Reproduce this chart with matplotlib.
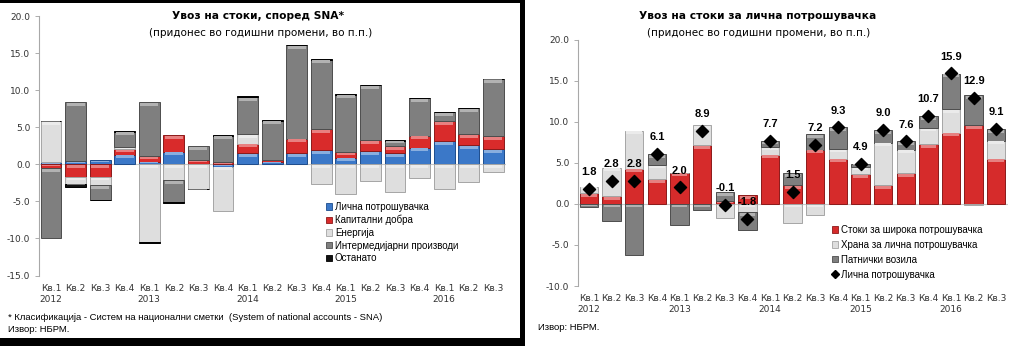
import numpy as np
import matplotlib
matplotlib.use("Agg")
import matplotlib.pyplot as plt
from matplotlib.colors import to_rgb
from matplotlib.patches import Patch, Rectangle
from matplotlib.lines import Line2D

# ---- data ----
quarters = ["Кв.1\n2012", "Кв.2", "Кв.3", "Кв.4",
            "Кв.1\n2013", "Кв.2", "Кв.3", "Кв.4",
            "Кв.1\n2014", "Кв.2", "Кв.3", "Кв.4",
            "Кв.1\n2015", "Кв.2", "Кв.3", "Кв.4",
            "Кв.1\n2016", "Кв.2", "Кв.3"]

# left chart: imports by SNA classification
licna = [0.3, 0.45, 0.6, 1.3, 0.35, 1.7, 0.05, -0.3, 1.5, 0.35,
         1.5, 1.95, 0.9, 1.8, 1.5, 2.25, 3.1, 2.6, 2.0]
kapitalni = [-0.5, -1.7, -1.7, 0.7, 0.75, 2.2, 0.5, 0.25, 1.3, 0.25,
             1.95, 2.8, 0.7, 1.5, 0.9, 1.6, 2.7, 1.45, 1.8]
energija = [5.5, -0.9, -1.1, 0.35, -10.5, -2.15, -3.3, -6.0, 1.3, 0.0,
            0.0, -2.6, -4.0, -2.3, -3.8, -1.9, -3.3, -2.45, -1.0]
intermed = [-9.4, 7.95, -2.0, 2.05, 7.3, -2.95, 1.9, 3.6, 5.0, 5.3,
            12.6, 9.35, 7.8, 7.35, 0.8, 5.1, 1.2, 3.5, 7.7]
ostanato = [0.1, -0.4, -0.05, 0.05, -0.15, -0.1, -0.05, 0.05, 0.05, 0.05,
            0.05, 0.05, 0.05, 0.05, 0.05, 0.05, 0.05, 0.05, 0.05]

# right chart: imports for personal consumption
siroka = [1.3, 0.9, 4.3, 3.0, 3.8, 7.15, 0.35, 1.05, 6.0, 2.3,
          6.6, 5.5, 3.6, 2.3, 3.7, 7.25, 8.65, 9.6, 5.5]
hrana = [0.8, 3.5, 4.6, 1.75, 0.0, 2.4, -1.7, -1.0, 0.9, -2.3,
         -1.4, 1.2, 0.9, 5.15, 2.9, 2.0, 2.85, -0.2, 2.2]
vozila = [-0.4, -2.1, -6.25, 1.3, -2.6, -0.8, 1.1, -2.15, 0.75, 1.4,
          1.9, 2.6, 0.4, 1.5, 1.0, 1.4, 4.35, 3.65, 1.35]
licna_total = [1.8, 2.8, 2.8, 6.1, 2.0, 8.9, -0.1, -1.8, 7.7, 1.5,
               7.2, 9.3, 4.9, 9.0, 7.6, 10.7, 15.9, 12.9, 9.1]

left_series = [
    ("Лична потрошувачка", licna, "#3b78c8", "#1d4c8c"),
    ("Капитални добра", kapitalni, "#d92b2b", "#8c1a1a"),
    ("Енергија", energija, "#dedede", "#a5a5a5"),
    ("Интермедијарни производи", intermed, "#7f7f7f", "#4d4d4d"),
    ("Останато", ostanato, "#111111", "#000000"),
]
right_series = [
    ("Стоки за широка потрошувачка", siroka, "#d62b2b", "#8c1a1a"),
    ("Храна за лична потрошувачка", hrana, "#dedede", "#a5a5a5"),
    ("Патнички возила", vozila, "#7f7f7f", "#4d4d4d"),
]

W, H = 1023, 346
fig = plt.figure(figsize=(W / 100, H / 100), dpi=100)

TICK_FONT = "DejaVu Sans"
SMALL_FONT = "Liberation Sans"


def lighter(col, k):
    r, g, b = to_rgb(col)
    return (r + (1 - r) * k, g + (1 - g) * k, b + (1 - b) * k)


def stacked(ax, series, width, band):
    x = np.arange(len(quarters))
    pos = np.zeros(len(x))
    neg = np.zeros(len(x))
    for name, vals, col, edge in series:
        v = np.array(vals, dtype=float)
        base = np.where(v >= 0, pos, neg)
        ax.bar(x, v, width, bottom=base, color=col, edgecolor=edge,
               linewidth=0.7, zorder=3)
        # glossy highlight strip at the upper edge of every segment
        top = np.where(v >= 0, base + v, base)
        hb = np.minimum(np.abs(v) * 0.35, band)
        ax.bar(x, hb, width * 0.86, bottom=top - hb - band * 0.25,
               color=lighter(col, 0.4), linewidth=0, zorder=3.5)
        pos = pos + np.where(v >= 0, v, 0)
        neg = neg + np.where(v < 0, v, 0)
    return x


def style_axis(ax, ylim, yticks):
    ax.set_ylim(*ylim)
    ax.set_xlim(-0.5, len(quarters) - 0.5)
    ax.set_yticks(yticks)
    ax.set_yticklabels(["%.1f" % t for t in yticks], fontsize=6.5,
                       family=TICK_FONT, color="#333333")
    ax.set_xticks(np.arange(len(quarters)))
    ax.set_xticklabels(quarters, fontsize=6.5, family=TICK_FONT,
                       color="#333333", linespacing=1.25, va="top")
    ax.tick_params(axis="x", length=0, pad=6)
    ax.tick_params(axis="y", length=3, width=0.6, color="#a0a0a0", pad=3)
    for s in ["top", "right", "bottom"]:
        ax.spines[s].set_visible(False)
    ax.spines["left"].set_color("#a8a8a8")
    ax.spines["left"].set_linewidth(0.8)
    ax.axhline(0, color="#c8c8c8", lw=0.8, zorder=2)


# ---- left panel ----
axl = fig.add_axes([38.7 / W, (H - 275.5) / H, (505.5 - 38.7) / W, 259.5 / H])
stacked(axl, left_series, 0.85, 0.4)
style_axis(axl, (-15, 20), np.arange(-15, 21, 5))

fig.text(258 / W, 1 - 16 / H, "Увоз на стоки, според SNA*", ha="center",
         va="center", fontsize=7.7, fontweight="bold", family=TICK_FONT)
fig.text(261 / W, 1 - 33 / H, "(придонес во годишни промени, во п.п.)",
         ha="center", va="center", fontsize=7.5, family=TICK_FONT)

handles_l = [Patch(facecolor=c, edgecolor=e, linewidth=0.6)
             for _, _, c, e in left_series]
fig.legend(handles_l, [s[0] for s in left_series], loc="upper left",
           bbox_to_anchor=(326 / W, 1 - 202 / H), frameon=False,
           handlelength=0.6, handleheight=0.6, handletextpad=0.3,
           labelspacing=0.28, borderpad=0, borderaxespad=0,
           prop={"family": SMALL_FONT, "size": 7})

fig.text(8 / W, 1 - 318 / H,
         "* Класификација - Систем на национални сметки  (System of national accounts - SNA)",
         ha="left", va="center", fontsize=6.8, family=SMALL_FONT)
fig.text(8 / W, 1 - 330 / H, "Извор: НБРМ.", ha="left", va="center",
         fontsize=6.8, family=SMALL_FONT)

# ---- right panel ----
axr = fig.add_axes([577.7 / W, (H - 286) / H, (1007.6 - 577.7) / W, 246.5 / H])
xr = stacked(axr, right_series, 0.81, 0.35)
style_axis(axr, (-10, 20), np.arange(-10, 21, 5))
axr.scatter(xr, licna_total, marker="D", s=38, color="black", zorder=5)
for xi, v in zip(xr, licna_total):
    axr.annotate("%.1f" % v, (xi, v), xytext=(0, 12), textcoords="offset points",
                 ha="center", va="center", fontsize=8, fontweight="bold",
                 family=SMALL_FONT, zorder=6)

fig.text(758 / W, 1 - 16 / H, "Увоз на стоки за лична потрошувачка",
         ha="center", va="center", fontsize=7.7, fontweight="bold",
         family=TICK_FONT)
fig.text(759 / W, 1 - 33 / H, "(придонес во годишни промени, во п.п.)",
         ha="center", va="center", fontsize=7.5, family=TICK_FONT)

handles_r = [Patch(facecolor=c, edgecolor=e, linewidth=0.6)
             for _, _, c, e in right_series]
handles_r.append(Line2D([], [], marker="D", color="black", ls="none",
                        markersize=4))
fig.legend(handles_r, [s[0] for s in right_series] + ["Лична потрошувачка"],
           loc="upper left", bbox_to_anchor=(832 / W, 1 - 225 / H),
           frameon=False, handlelength=0.6, handleheight=0.6,
           handletextpad=0.3, labelspacing=0.5, borderpad=0,
           borderaxespad=0, prop={"family": SMALL_FONT, "size": 7})

fig.text(538 / W, 1 - 328 / H, "Извор: НБРМ.", ha="left", va="center",
         fontsize=6.8, family=SMALL_FONT)

# ---- frame around left panel ----
for rect in [(0, H - 3, 525, 3), (520, 0, 5, H), (0, 0, 525, 8)]:
    fig.patches.append(Rectangle((rect[0] / W, rect[1] / H), rect[2] / W,
                                 rect[3] / H, transform=fig.transFigure,
                                 facecolor="black", edgecolor="none"))

fig.savefig("out.png", dpi=100)
